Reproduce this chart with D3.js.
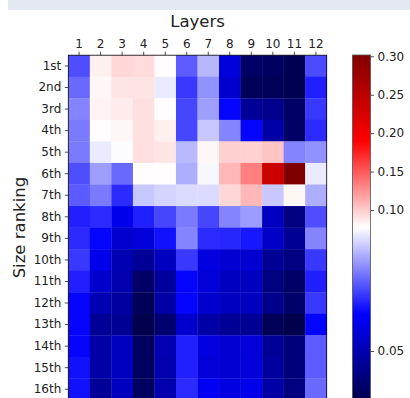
<!DOCTYPE html>
<html><head><meta charset="utf-8">
<script src="https://cdn.jsdelivr.net/npm/d3@7"></script>
<style>body{margin:0;background:#fff}svg{display:block}text{font-family:"DejaVu Sans",sans-serif;fill:#222}</style>
</head><body><svg id="c" width="410" height="398"></svg>
<script>
const layers = ["1","2","3","4","5","6","7","8","9","10","11","12"];
const ranks = ["1st","2nd","3rd","4th","5th","6th","7th","8th","9th","10th","11th","12th","13th","14th","15th","16th"];
const row1  = [0.064,0.084,0.095,0.093,0.078,0.065,0.0718,0.0543,0.0418,0.0412,0.0398,0.0638];
const row2  = [0.066,0.081,0.089,0.089,0.0757,0.0624,0.069,0.053,0.0404,0.0404,0.0398,0.0605];
const row3  = [0.068,0.0825,0.086,0.0915,0.078,0.0634,0.070,0.0585,0.047,0.046,0.042,0.0624];
const row4  = [0.0673,0.078,0.081,0.0915,0.0836,0.0634,0.0731,0.068,0.0585,0.0488,0.042,0.0614];
const row5  = [0.0673,0.0757,0.077,0.0915,0.089,0.072,0.081,0.098,0.097,0.1026,0.068,0.069];
const row6  = [0.064,0.070,0.066,0.078,0.078,0.0712,0.0766,0.109,0.134,0.235,0.302,0.0757];
const row7  = [0.065,0.0673,0.0614,0.073,0.074,0.0745,0.0745,0.095,0.109,0.0731,0.081,0.0712];
const row8  = [0.0605,0.0614,0.056,0.0605,0.0634,0.0673,0.0634,0.068,0.0698,0.0515,0.0446,0.064];
const row9  = [0.0614,0.0585,0.053,0.054,0.0595,0.068,0.0614,0.061,0.060,0.0524,0.047,0.068];
const row10 = [0.0624,0.056,0.050,0.047,0.0515,0.0624,0.055,0.0535,0.0535,0.047,0.0446,0.0624];
const row11 = [0.0605,0.053,0.0495,0.042,0.048,0.0585,0.054,0.0515,0.0515,0.0446,0.042,0.0605];
const row12 = [0.0585,0.050,0.048,0.0404,0.0488,0.0585,0.053,0.0515,0.0515,0.046,0.0423,0.0624];
const row13 = [0.0585,0.047,0.0468,0.0392,0.043,0.053,0.0488,0.047,0.0468,0.0404,0.0392,0.0585];
const row14 = [0.0585,0.0488,0.0515,0.041,0.050,0.0605,0.055,0.0535,0.054,0.047,0.044,0.065];
const row15 = [0.0595,0.0488,0.0515,0.041,0.0495,0.0605,0.054,0.0535,0.054,0.048,0.044,0.065];
const row16 = [0.0595,0.047,0.0515,0.041,0.0495,0.0614,0.0571,0.055,0.056,0.0488,0.0446,0.066];
const values = [row1,row2,row3,row4,row5,row6,row7,row8,row9,row10,row11,row12,row13,row14,row15,row16];
const cbTicks = [0.05,0.10,0.15,0.20,0.25,0.30];
const vmin = 0.0392, vcenter = 0.0772, vmax = 0.3017;

const svg = d3.select("#c");
// top band
svg.append("rect").attr("x",8).attr("y",0).attr("width",402).attr("height",10).attr("fill","#e4e8f3");

const L = 68.3, R = 326.7, T = 55.2, B = 400;
const x = d3.scaleBand().domain(layers).range([L,R]);
const y = d3.scaleBand().domain(ranks).range([T,B]);
const seismic = d3.piecewise(d3.interpolateRgb, ["rgb(0,0,77)","rgb(0,0,255)","rgb(255,255,255)","rgb(255,0,0)","rgb(128,0,0)"]);
const color = d3.scaleDiverging().domain([vmin,vcenter,vmax]).interpolator(seismic).clamp(true);

const cells = [];
values.forEach((row,i)=>row.forEach((v,j)=>cells.push({r:ranks[i],l:layers[j],v})));
svg.append("g").selectAll("rect").data(cells).join("rect")
  .attr("x",d=>x(d.l)).attr("y",d=>y(d.r))
  .attr("width",x.bandwidth()+0.3).attr("height",y.bandwidth()+0.3)
  .attr("fill",d=>color(d.v));
svg.append("rect").attr("x",L).attr("y",T).attr("width",R-L).attr("height",B-T)
  .attr("fill","none").attr("stroke","#000").attr("stroke-width",0.8);

const xAxis = svg.append("g").attr("transform",`translate(0,${T})`)
  .call(d3.axisTop(x).tickSize(3.5).tickPadding(3.5));
const yAxis = svg.append("g").attr("transform",`translate(${L},0)`)
  .call(d3.axisLeft(y).tickSize(3.5).tickPadding(3.5));
[xAxis,yAxis].forEach(a=>{
  a.select(".domain").remove();
  a.selectAll("line").attr("stroke","#222").attr("stroke-width",0.8);
  a.selectAll("text").attr("font-size",12).attr("font-family","DejaVu Sans").attr("fill","#222");
});

svg.append("text").attr("x",(L+R)/2).attr("y",27).attr("text-anchor","middle")
  .attr("font-size",16.5).text("Layers");
svg.append("text").attr("transform",`translate(25,${(T+B)/2}) rotate(-90)`)
  .attr("text-anchor","middle").attr("font-size",16.5).text("Size ranking");

// colorbar
const cbL = 352.5, cbW = 18, cbT = 55, cbB = 400;
const cy = d3.scaleLinear().domain([vmin,vcenter,vmax]).range([cbB,(cbT+cbB)/2,cbT]);
const steps = d3.range(0,cbB-cbT,1);
svg.append("g").selectAll("rect").data(steps).join("rect")
  .attr("x",cbL).attr("y",d=>cbT+d).attr("width",cbW).attr("height",1.2)
  .attr("fill",d=>color(cy.invert(cbT+d+0.5)));
svg.append("rect").attr("x",cbL).attr("y",cbT).attr("width",cbW).attr("height",cbB-cbT)
  .attr("fill","none").attr("stroke","#555").attr("stroke-width",0.8);
const cAxis = svg.append("g").attr("transform",`translate(${cbL+cbW},0)`)
  .call(d3.axisRight(cy).tickValues(cbTicks).tickFormat(d3.format(".2f")).tickSize(3.5).tickPadding(3.5));
cAxis.select(".domain").remove();
cAxis.selectAll("line").attr("stroke","#222").attr("stroke-width",0.8);
cAxis.selectAll("text").attr("font-size",12).attr("font-family","DejaVu Sans").attr("fill","#222");
</script></body></html>
